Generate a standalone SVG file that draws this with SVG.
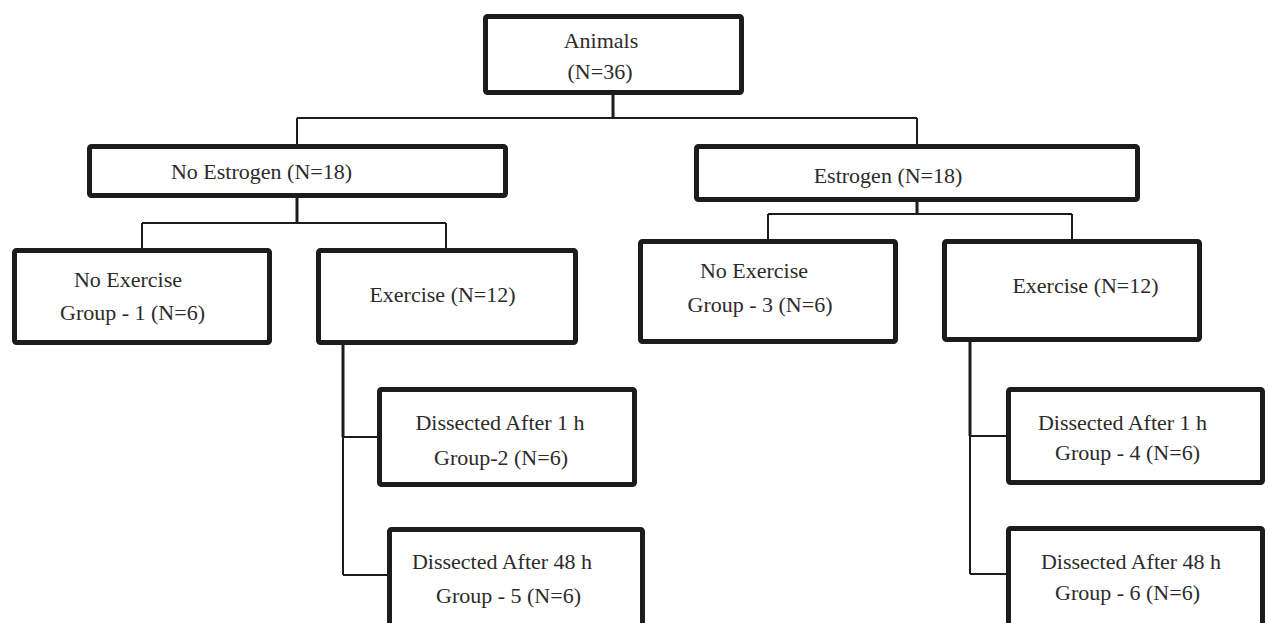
<svg xmlns="http://www.w3.org/2000/svg" width="1269" height="623" viewBox="0 0 1269 623">
<style>
.box{fill:#fff;stroke:#1c1c1c;stroke-width:5}
.t{font-family:"Liberation Serif","Times New Roman",serif;font-size:22px;fill:#2b2b2b;text-anchor:middle}
.c{fill:none;stroke:#1c1c1c;stroke-width:2}
.c3{fill:none;stroke:#1c1c1c;stroke-width:3}
</style>
<rect width="1269" height="623" fill="#fff"/>
<g id="connectors">
<path class="c3" d="M613 95V118"/>
<path class="c" d="M297 118H917M297 118V144M917 118V144"/>
<path class="c3" d="M297 198V223"/>
<path class="c" d="M142 223H446M142 223V248M446 223V248"/>
<path class="c3" d="M917 202V214"/>
<path class="c" d="M768 214H1072M768 214V239M1072 214V239"/>
<path class="c3" d="M343 345V437"/>
<path class="c" d="M343 437V575M343 437H377M343 575H387"/>
<path class="c3" d="M970 342V436"/>
<path class="c" d="M970 436V574M970 436H1006M970 574H1006"/>
</g>
<g id="animals">
<rect class="box" x="485.5" y="16.5" width="256" height="76" rx="2"/>
<text class="t" x="601" y="48">Animals</text>
<text class="t" x="600" y="79">(N=36)</text>
</g>
<g id="no-estrogen">
<rect class="box" x="89.5" y="146.5" width="416" height="49" rx="2"/>
<text class="t" x="261.5" y="179">No Estrogen (N=18)</text>
</g>
<g id="estrogen">
<rect class="box" x="696.5" y="146.5" width="441" height="53" rx="2"/>
<text class="t" x="888" y="183">Estrogen (N=18)</text>
</g>
<g id="group1">
<rect class="box" x="14.5" y="250.5" width="255" height="92" rx="2"/>
<text class="t" x="128" y="287">No Exercise</text>
<text class="t" x="132.5" y="320">Group - 1 (N=6)</text>
</g>
<g id="exercise-left">
<rect class="box" x="318.5" y="250.5" width="257" height="92" rx="2"/>
<text class="t" x="442.5" y="302">Exercise (N=12)</text>
</g>
<g id="group3">
<rect class="box" x="640.5" y="241.5" width="255" height="100" rx="2"/>
<text class="t" x="754" y="278">No Exercise</text>
<text class="t" x="760" y="312">Group - 3 (N=6)</text>
</g>
<g id="exercise-right">
<rect class="box" x="944.5" y="241.5" width="255" height="98" rx="2"/>
<text class="t" x="1085.5" y="293">Exercise (N=12)</text>
</g>
<g id="group2">
<rect class="box" x="379.5" y="389.5" width="255" height="95" rx="2"/>
<text class="t" x="500" y="430">Dissected After 1 h</text>
<text class="t" x="501" y="465">Group-2 (N=6)</text>
</g>
<g id="group5">
<rect class="box" x="389.5" y="529.5" width="253" height="120" rx="2"/>
<text class="t" x="502" y="569">Dissected After 48 h</text>
<text class="t" x="508.5" y="603">Group - 5 (N=6)</text>
</g>
<g id="group4">
<rect class="box" x="1008.5" y="389.5" width="254" height="93" rx="2"/>
<text class="t" x="1122.5" y="430">Dissected After 1 h</text>
<text class="t" x="1127.5" y="460">Group - 4 (N=6)</text>
</g>
<g id="group6">
<rect class="box" x="1008.5" y="528.5" width="254" height="120" rx="2"/>
<text class="t" x="1131" y="569">Dissected After 48 h</text>
<text class="t" x="1127.5" y="600">Group - 6 (N=6)</text>
</g>
</svg>
